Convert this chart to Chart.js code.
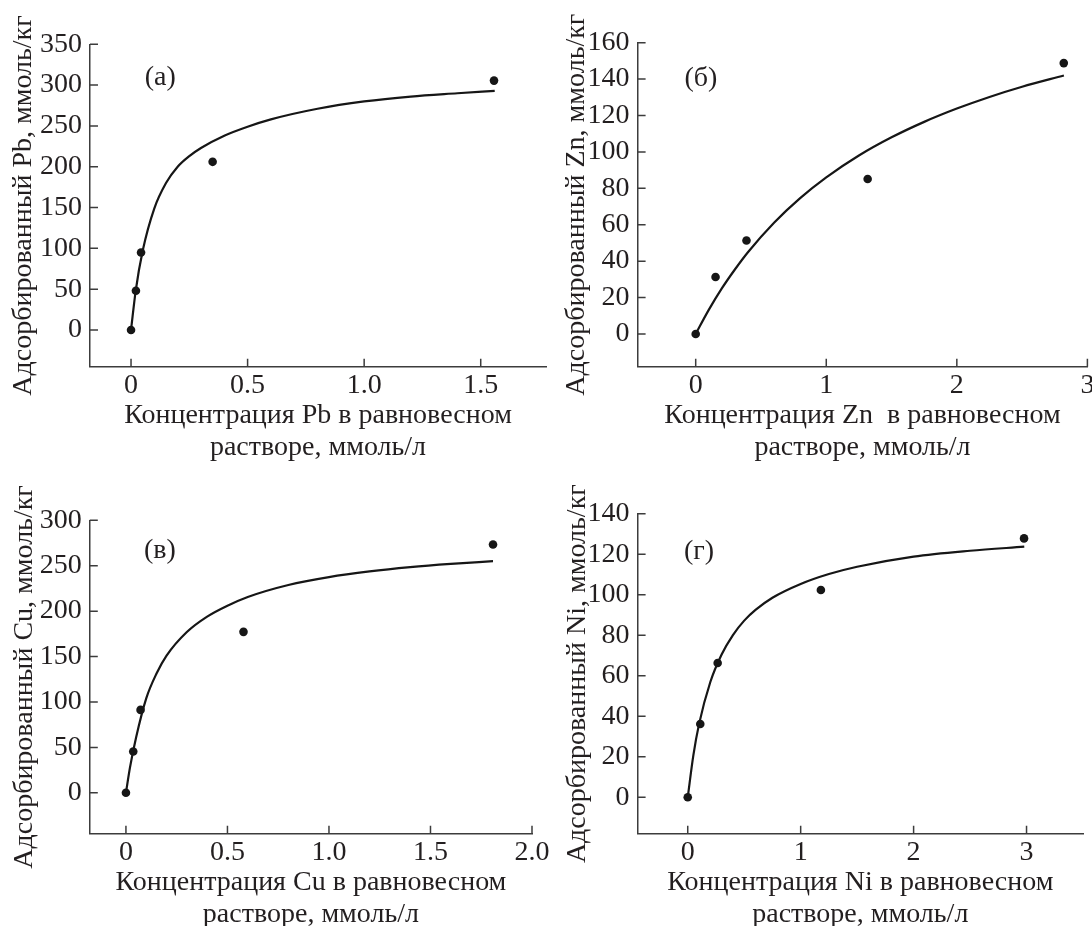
<!DOCTYPE html>
<html>
<head>
<meta charset="utf-8">
<script src="https://cdn.jsdelivr.net/npm/chart.js@4/dist/chart.umd.min.js"></script>
<style>
  body { margin: 0; background: #fff; overflow: hidden; width: 1092px; height: 926px; }
  canvas { position: absolute; }
</style>
</head>
<body>
<canvas id="pbChart" width="560" height="480" style="left:0;top:0"></canvas>
<canvas id="znChart" width="560" height="480" style="left:546px;top:0"></canvas>
<canvas id="cuChart" width="560" height="480" style="left:0;top:463px"></canvas>
<canvas id="niChart" width="560" height="480" style="left:546px;top:463px"></canvas>
<script>
// (а) Pb
const pbConc = [0, 0.021, 0.043, 0.35, 1.557];
const pbAds = [0, 48, 95, 206, 305.5];
const pbFitConc = [0, 0.02, 0.05, 0.1, 0.15, 0.2, 0.25, 0.3, 0.4, 0.5, 0.6, 0.8, 1.0, 1.2, 1.4, 1.56];
const pbFitAds = [0, 48, 97, 149, 180, 200, 213, 223, 238, 249, 258, 271, 280, 286, 290, 293];
const pbTicksX = [0, 0.5, 1.0, 1.5];
const pbLabelsX = ["0", "0.5", "1.0", "1.5"];
const pbTicksY = [0, 50, 100, 150, 200, 250, 300, 350];

// (б) Zn
const znConc = [0, 0.152, 0.389, 1.317, 2.819];
const znAds = [0, 31.3, 51.3, 85.1, 148.8];
const znFitConc = [0, 0.1, 0.2, 0.3, 0.4, 0.6, 0.8, 1.0, 1.25, 1.5, 1.75, 2.0, 2.25, 2.5, 2.82];
const znFitAds = [0, 13.2, 25.0, 35.4, 44.9, 61.1, 74.6, 86.0, 98.0, 108.0, 116.5, 123.8, 130.2, 135.8, 142.0];
const znTicksX = [0, 1, 2, 3];
const znLabelsX = ["0", "1", "2", "3"];
const znTicksY = [0, 20, 40, 60, 80, 100, 120, 140, 160];

// (в) Cu
const cuConc = [0, 0.036, 0.072, 0.579, 1.808];
const cuAds = [0, 45.5, 91.3, 177.2, 273.3];
const cuFitConc = [0, 0.02, 0.05, 0.1, 0.15, 0.2, 0.3, 0.4, 0.5, 0.6, 0.8, 1.0, 1.2, 1.4, 1.6, 1.808];
const cuFitAds = [0, 28, 61, 104, 131, 151, 177, 194, 206, 215.6, 228.8, 237.5, 243.7, 248.4, 252, 255];
const cuTicksX = [0, 0.5, 1.0, 1.5, 2.0];
const cuLabelsX = ["0", "0.5", "1.0", "1.5", "2.0"];
const cuTicksY = [0, 50, 100, 150, 200, 250, 300];

// (г) Ni
const niConc = [0, 0.111, 0.265, 1.179, 2.978];
const niAds = [0, 36.2, 66.3, 102.3, 127.8];
const niFitConc = [0, 0.05, 0.1, 0.2, 0.3, 0.4, 0.5, 0.6, 0.75, 1.0, 1.25, 1.5, 2.0, 2.5, 2.98];
const niFitAds = [0, 20.8, 36.1, 56.9, 70.5, 80.1, 87.2, 92.5, 98.5, 105.3, 110.2, 113.8, 118.8, 121.7, 123.7];
const niTicksX = [0, 1, 2, 3];
const niLabelsX = ["0", "1", "2", "3"];
const niTicksY = [0, 20, 40, 60, 80, 100, 120, 140];

const textColor = "#231f20";
const axisColor = "#3c3c3c";
const fontFamily = '"Liberation Serif", "Times New Roman", serif';
const fontSize = 28;
const canvasH = 480;

// ticks in the original point inwards, so they are drawn here from the scales
const inwardTicks = {
  id: "inwardTicks",
  afterDraw(chart, args, opts) {
    const ctx = chart.ctx;
    const area = chart.chartArea;
    const xs = chart.scales.x;
    const ys = chart.scales.y;
    ctx.save();
    ctx.strokeStyle = axisColor;
    ctx.lineWidth = 1.5;
    ctx.beginPath();
    xs.ticks.forEach((t) => {
      const px = xs.getPixelForValue(t.value);
      ctx.moveTo(px, area.bottom);
      ctx.lineTo(px, area.bottom - 8);
    });
    ys.ticks.forEach((t) => {
      const py = ys.getPixelForValue(t.value);
      ctx.moveTo(area.left, py);
      ctx.lineTo(area.left + 8, py);
    });
    ctx.stroke();

    // panel letter
    ctx.fillStyle = textColor;
    ctx.font = fontSize + "px " + fontFamily;
    ctx.textAlign = "center";
    ctx.textBaseline = "middle";
    ctx.fillText(opts.text, xs.getPixelForValue(opts.x), ys.getPixelForValue(opts.y));
    ctx.restore();
  },
};

const makePanel = function (id, p) {
  const points = p.conc.map((c, i) => ({ x: c, y: p.ads[i] }));
  const fit = p.fitConc.map((c, i) => ({ x: c, y: p.fitAds[i] }));

  const config = {
    type: "scatter",
    data: {
      datasets: [
        {
          data: fit,
          showLine: true,
          borderColor: "#161616",
          borderWidth: 2.2,
          pointRadius: 0,
          cubicInterpolationMode: "monotone",
        },
        {
          data: points,
          pointRadius: 4.3,
          pointBackgroundColor: "#161616",
          pointBorderWidth: 0,
        },
      ],
    },
    options: {
      responsive: false,
      animation: false,
      layout: {
        padding: { left: 0, top: p.top, right: 560 - p.right, bottom: 0 },
      },
      plugins: {
        legend: { display: false },
        tooltip: { enabled: false },
        inwardTicks: p.label,
      },
      scales: {
        x: {
          type: "linear",
          min: p.xMin,
          max: p.xMax,
          afterFit: (scale) => {
            scale.height = canvasH - p.bottom;
          },
          afterBuildTicks: (scale) => {
            scale.ticks = p.ticksX.map((v) => ({ value: v }));
          },
          grid: { display: false, drawTicks: false },
          border: { display: true, color: axisColor, width: 1.5 },
          ticks: {
            padding: 2,
            color: textColor,
            font: { family: fontFamily, size: fontSize, lineHeight: 1.2 },
            callback: (value, index) => p.labelsX[index],
          },
          title: {
            display: true,
            text: p.titleX,
            color: textColor,
            font: { family: fontFamily, size: fontSize, lineHeight: 1.143 },
            // second line sits about 81px under the axis
            padding: { top: 0, bottom: canvasH - p.bottom - 80.6 - 16 },
          },
        },
        y: {
          type: "linear",
          min: p.yMin,
          max: p.yMax,
          afterFit: (scale) => {
            scale.width = p.left;
          },
          afterBuildTicks: (scale) => {
            scale.ticks = p.ticksY.map((v) => ({ value: v }));
          },
          grid: { display: false, drawTicks: false },
          border: { display: true, color: axisColor, width: 1.5 },
          ticks: {
            padding: 8,
            color: textColor,
            font: { family: fontFamily, size: fontSize, lineHeight: 1.2 },
          },
          title: {
            display: true,
            text: p.titleY,
            color: textColor,
            font: { family: fontFamily, size: fontSize, lineHeight: 1.04 },
            padding: { top: p.titleYPad, bottom: 0 },
          },
        },
      },
    },
    plugins: [inwardTicks],
  };
  return new Chart(document.getElementById(id), config);
};

makePanel("pbChart", {
  conc: pbConc, ads: pbAds, fitConc: pbFitConc, fitAds: pbFitAds,
  ticksX: pbTicksX, labelsX: pbLabelsX, ticksY: pbTicksY,
  xMin: -0.176, xMax: 1.78, yMin: -45, yMax: 350,
  left: 90, top: 44.3, right: 546, bottom: 366.7,
  titleX: ["Концентрация Pb в равновесном", "растворе, ммоль/л"],
  titleY: "Адсорбированный Pb, ммоль/кг",
  titleYPad: 9.5,
  label: { text: "(а)", x: 0.125, y: 309 },
});

makePanel("znChart", {
  conc: znConc, ads: znAds, fitConc: znFitConc, fitAds: znFitAds,
  ticksX: znTicksX, labelsX: znLabelsX, ticksY: znTicksY,
  xMin: -0.445, xMax: 3, yMin: -18, yMax: 160,
  left: 91.6, top: 42.7, right: 541.4, bottom: 366.7,
  titleX: ["Концентрация Zn  в равновесном", "растворе, ммоль/л"],
  titleY: "Адсорбированный Zn, ммоль/кг",
  titleYPad: 16,
  label: { text: "(б)", x: 0.04, y: 140.5 },
});

makePanel("cuChart", {
  conc: cuConc, ads: cuAds, fitConc: cuFitConc, fitAds: cuFitAds,
  ticksX: cuTicksX, labelsX: cuLabelsX, ticksY: cuTicksY,
  xMin: -0.178, xMax: 2.0, yMin: -45, yMax: 300,
  left: 89.8, top: 57.3, right: 532, bottom: 370.7,
  titleX: ["Концентрация Cu в равновесном", "растворе, ммоль/л"],
  titleY: "Адсорбированный Cu, ммоль/кг",
  titleYPad: 10.5,
  label: { text: "(в)", x: 0.167, y: 266.5 },
});

makePanel("niChart", {
  conc: niConc, ads: niAds, fitConc: niFitConc, fitAds: niFitAds,
  ticksX: niTicksX, labelsX: niLabelsX, ticksY: niTicksY,
  xMin: -0.444, xMax: 3.5, yMin: -18, yMax: 140,
  left: 91.6, top: 50.7, right: 537, bottom: 370.7,
  titleX: ["Концентрация Ni в равновесном", "растворе, ммоль/л"],
  titleY: "Адсорбированный Ni, ммоль/кг",
  titleYPad: 17.5,
  label: { text: "(г)", x: 0.1, y: 121.1 },
});
</script>
</body>
</html>
